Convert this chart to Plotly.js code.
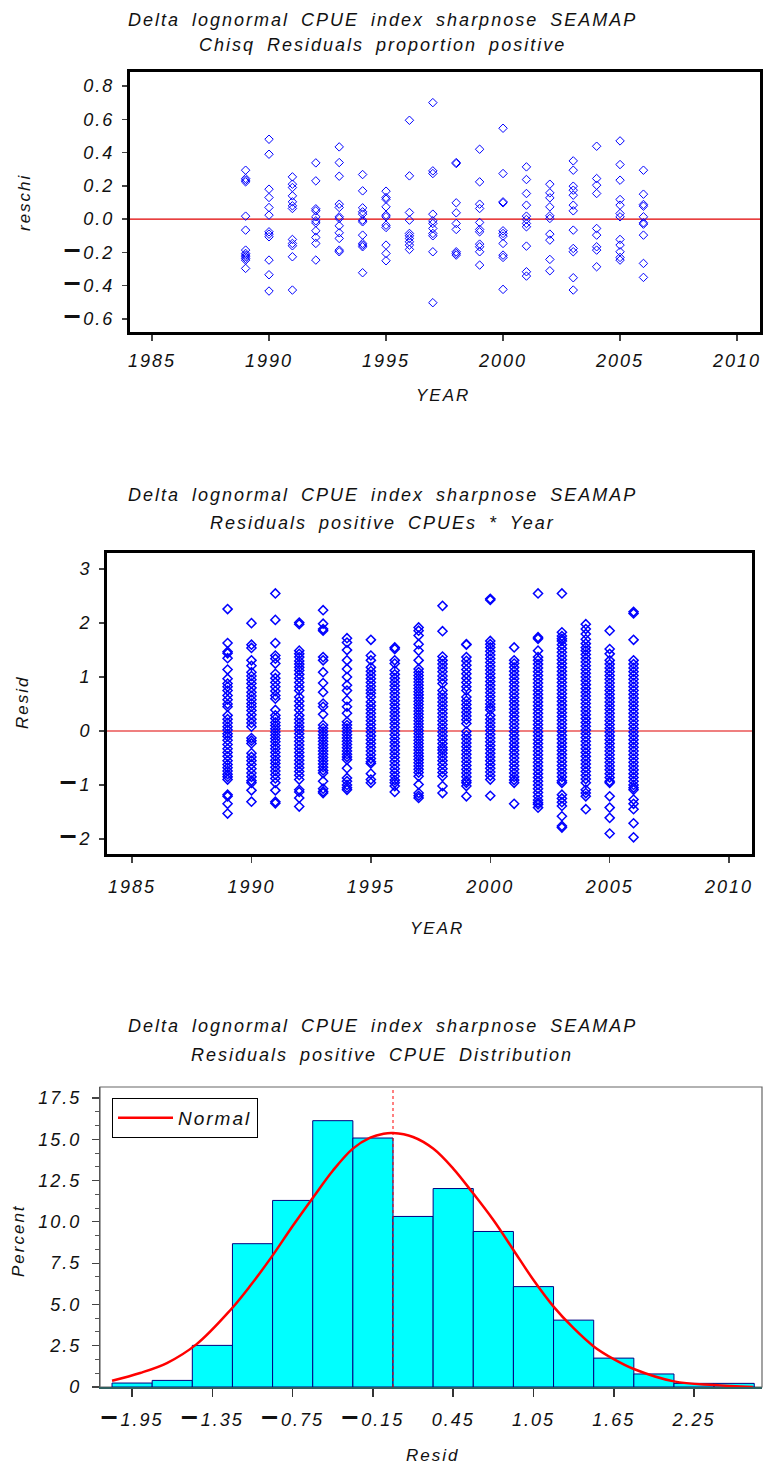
<!DOCTYPE html>
<html><head><meta charset="utf-8">
<script src="https://cdn.plot.ly/plotly-3.0.1.min.js"></script>
<style>
html,body{margin:0;padding:0;background:#fff;}
#chart{width:763px;height:1466px;}
text{letter-spacing:2px;word-spacing:5px;font-style:italic;}
</style></head><body><div id="chart"></div>
<script>
// ---------- Panel 1: Chisq residuals, proportion positive ----------
const chisqYears = [1989,1990,1991,1992,1993,1994,1995,1996,1997,1998,1999,2000,2001,2002,2003,2004,2005,2006];
const chisqResid = [
  [0.294,0.244,0.234,0.224,0.018,-0.066,-0.186,-0.206,-0.216,-0.226,-0.236,-0.246,-0.296],
  [0.48,0.39,0.18,0.13,0.07,0.024,-0.076,-0.09,-0.106,-0.246,-0.334,-0.432],
  [0.254,0.21,0.19,0.14,0.104,0.08,0.064,-0.122,-0.146,-0.16,-0.226,-0.426],
  [0.338,0.23,0.062,0.05,0.014,-0.01,-0.022,-0.07,-0.11,-0.146,-0.246],
  [0.434,0.34,0.258,0.09,0.07,0.014,0.004,-0.04,-0.082,-0.116,-0.186,-0.196],
  [0.268,0.17,0.068,0.044,0.03,-0.006,-0.016,-0.096,-0.146,-0.156,-0.166,-0.322],
  [0.168,0.13,0.12,0.074,0.024,0.014,-0.036,-0.05,-0.156,-0.206,-0.25],
  [0.594,0.26,0.04,-0.006,-0.086,-0.1,-0.116,-0.136,-0.156,-0.182],
  [0.70,0.29,0.274,0.03,-0.01,-0.026,-0.056,-0.086,-0.1,-0.196,-0.502],
  [0.34,0.334,0.098,0.038,-0.026,-0.062,-0.196,-0.206,-0.216],
  [0.42,0.224,0.09,0.064,-0.02,-0.062,-0.076,-0.15,-0.166,-0.196,-0.276],
  [0.546,0.274,0.104,0.098,-0.07,-0.086,-0.102,-0.146,-0.216,-0.23,-0.422],
  [0.314,0.238,0.154,0.084,0.018,-0.002,-0.026,-0.046,-0.162,-0.316,-0.342],
  [0.21,0.158,0.128,0.074,0.02,0.004,-0.09,-0.126,-0.242,-0.31],
  [0.35,0.294,0.198,0.174,0.144,0.084,0.05,-0.066,-0.176,-0.196,-0.352,-0.426],
  [0.438,0.244,0.204,0.154,-0.056,-0.096,-0.166,-0.186,-0.286],
  [0.47,0.328,0.234,0.118,0.084,0.034,0.014,-0.122,-0.156,-0.196,-0.23,-0.246],
  [0.294,0.15,0.088,0.078,0.014,-0.022,-0.03,-0.096,-0.266,-0.35]
];

// ---------- Panel 2: Residuals positive CPUEs by year ----------
const posYears = [1989,1990,1991,1992,1993,1994,1995,1996,1997,1998,1999,2000,2001,2002,2003,2004,2005,2006];
const posResid = [
  [2.26,1.63,1.47,1.44,1.35,1.14,0.97,0.88,0.82,0.75,0.66,0.58,0.50,0.45,0.29,0.22,0.15,0.08,0.02,-0.05,-0.10,-0.17,-0.25,-0.33,-0.40,-0.47,-0.55,-0.62,-0.68,-0.74,-0.80,-0.85,-0.90,-1.18,-1.21,-1.35,-1.53],
  [2.00,1.60,1.54,1.31,1.21,1.09,1.02,0.95,0.88,0.80,0.72,0.65,0.58,0.51,0.45,0.38,0.30,0.22,0.15,0.08,-0.13,-0.18,-0.23,-0.41,-0.48,-0.55,-0.62,-0.70,-0.78,-0.85,-0.92,-0.96,-1.10,-1.31],
  [2.55,2.06,1.63,1.40,1.34,1.25,1.06,0.98,0.90,0.82,0.74,0.66,0.60,0.39,0.29,0.23,0.16,0.10,0.04,-0.02,-0.08,-0.14,-0.20,-0.27,-0.33,-0.40,-0.47,-0.54,-0.60,-0.67,-0.74,-0.81,-0.88,-0.96,-1.10,-1.31,-1.34],
  [2.01,1.98,1.49,1.43,1.37,1.30,1.24,1.18,1.12,1.05,0.98,0.90,0.82,0.75,0.63,0.55,0.47,0.39,0.29,0.22,0.15,0.08,0.02,-0.05,-0.12,-0.19,-0.26,-0.33,-0.40,-0.47,-0.54,-0.61,-0.68,-0.75,-0.82,-0.90,-1.09,-1.13,-1.24,-1.40],
  [2.24,1.99,1.89,1.86,1.37,1.31,1.09,0.89,0.72,0.51,0.45,0.31,0.11,0.05,-0.01,-0.07,-0.13,-0.19,-0.25,-0.31,-0.37,-0.43,-0.49,-0.55,-0.61,-0.67,-0.73,-0.78,-0.93,-1.07,-1.12,-1.15],
  [1.72,1.64,1.50,1.31,1.15,1.00,0.85,0.75,0.57,0.45,0.33,0.17,0.11,0.05,-0.01,-0.07,-0.13,-0.19,-0.25,-0.31,-0.37,-0.43,-0.48,-0.53,-0.69,-0.87,-0.93,-1.00,-1.05,-1.09],
  [1.69,1.40,1.31,1.18,1.11,1.04,0.97,0.90,0.83,0.76,0.70,0.63,0.54,0.47,0.40,0.33,0.26,0.19,0.12,0.05,-0.02,-0.09,-0.16,-0.23,-0.30,-0.37,-0.44,-0.51,-0.57,-0.60,-0.79,-0.90,-0.96],
  [1.55,1.52,1.31,1.25,1.12,1.05,0.98,0.91,0.84,0.77,0.70,0.63,0.56,0.49,0.42,0.35,0.28,0.21,0.14,0.07,0.00,-0.07,-0.14,-0.21,-0.28,-0.35,-0.42,-0.49,-0.56,-0.63,-0.70,-0.77,-0.84,-0.91,-0.96,-1.02,-1.13],
  [1.92,1.86,1.77,1.61,1.49,1.31,1.15,1.09,1.03,0.97,0.91,0.85,0.79,0.73,0.67,0.61,0.55,0.49,0.43,0.37,0.31,0.25,0.19,0.13,0.07,0.01,-0.05,-0.11,-0.17,-0.23,-0.29,-0.35,-0.41,-0.47,-0.53,-0.59,-0.65,-0.71,-0.77,-0.84,-0.99,-1.15,-1.20,-1.24],
  [2.32,1.85,1.38,1.31,1.24,1.17,1.10,1.02,0.95,0.88,0.75,0.68,0.61,0.54,0.47,0.40,0.33,0.26,0.19,0.12,0.05,-0.02,-0.09,-0.16,-0.23,-0.30,-0.35,-0.41,-0.48,-0.55,-0.62,-0.70,-0.77,-0.84,-1.02,-1.15],
  [1.61,1.60,1.37,1.30,1.22,1.14,1.06,0.98,0.90,0.82,0.75,0.63,0.56,0.49,0.42,0.35,0.28,0.21,0.14,-0.01,-0.08,-0.15,-0.22,-0.29,-0.36,-0.43,-0.50,-0.57,-0.64,-0.71,-0.78,-0.85,-0.92,-0.96,-1.02,-1.21],
  [2.45,2.43,1.67,1.61,1.55,1.48,1.41,1.34,1.27,1.20,1.13,1.06,0.99,0.92,0.85,0.78,0.71,0.64,0.57,0.50,0.44,0.39,0.29,0.22,0.15,0.08,0.01,-0.06,-0.13,-0.20,-0.27,-0.34,-0.41,-0.48,-0.55,-0.62,-0.69,-0.76,-0.83,-0.90,-1.20],
  [1.55,1.31,1.25,1.18,1.11,1.04,0.97,0.90,0.83,0.76,0.69,0.62,0.55,0.48,0.41,0.34,0.27,0.20,0.13,0.06,-0.01,-0.08,-0.15,-0.22,-0.29,-0.36,-0.43,-0.50,-0.57,-0.64,-0.71,-0.78,-0.85,-0.91,-0.96,-1.35],
  [2.55,1.74,1.71,1.49,1.37,1.31,1.24,1.17,1.10,1.03,0.96,0.89,0.82,0.75,0.68,0.61,0.54,0.47,0.40,0.33,0.26,0.19,0.12,0.05,-0.02,-0.09,-0.16,-0.23,-0.30,-0.37,-0.44,-0.51,-0.58,-0.65,-0.72,-0.79,-0.86,-0.93,-1.00,-1.07,-1.14,-1.21,-1.28,-1.33,-1.36,-1.42],
  [2.55,1.83,1.76,1.71,1.67,1.60,1.53,1.46,1.39,1.32,1.25,1.18,1.11,1.04,0.97,0.90,0.83,0.76,0.69,0.62,0.55,0.48,0.41,0.34,0.27,0.20,0.13,0.06,-0.01,-0.08,-0.15,-0.22,-0.29,-0.36,-0.43,-0.50,-0.57,-0.64,-0.71,-0.78,-0.85,-0.92,-0.96,-1.18,-1.25,-1.32,-1.39,-1.58,-1.76,-1.79],
  [1.98,1.89,1.80,1.70,1.62,1.55,1.49,1.42,1.35,1.28,1.21,1.14,1.07,1.00,0.93,0.86,0.79,0.72,0.65,0.58,0.51,0.44,0.37,0.30,0.23,0.16,0.09,0.02,-0.05,-0.12,-0.19,-0.26,-0.33,-0.40,-0.47,-0.54,-0.61,-0.68,-0.75,-0.82,-0.89,-0.96,-1.09,-1.15,-1.21,-1.45],
  [1.86,1.52,1.43,1.31,1.24,1.17,1.10,1.03,0.96,0.89,0.82,0.75,0.68,0.61,0.54,0.47,0.40,0.33,0.26,0.19,0.12,0.05,-0.02,-0.09,-0.16,-0.23,-0.30,-0.37,-0.44,-0.51,-0.58,-0.65,-0.72,-0.79,-0.86,-0.93,-0.96,-1.21,-1.42,-1.61,-1.90],
  [2.21,2.18,1.69,1.31,1.24,1.17,1.10,1.03,0.96,0.89,0.82,0.75,0.68,0.61,0.54,0.47,0.40,0.33,0.26,0.19,0.12,0.05,-0.02,-0.09,-0.16,-0.23,-0.30,-0.37,-0.44,-0.51,-0.58,-0.65,-0.72,-0.79,-0.86,-0.93,-1.00,-1.05,-1.09,-1.27,-1.35,-1.45,-1.71,-1.97]
];

// ---------- Panel 3: distribution of residuals ----------
const binMid = [-1.95,-1.65,-1.35,-1.05,-0.75,-0.45,-0.15,0.15,0.45,0.75,1.05,1.35,1.65,1.95,2.25,2.55];
const binPct = [0.24,0.40,2.52,8.68,11.30,16.13,15.08,10.33,12.02,9.42,6.08,4.05,1.75,0.79,0.22,0.22];
const normX = [-2.10,-1.89,-1.69,-1.47,-1.22,-1.07,-0.91,-0.75,-0.60,-0.45,-0.30,-0.17,-0.07,0.00,0.15,0.30,0.45,0.59,0.75,0.90,1.05,1.20,1.35,1.50,1.65,1.80,2.10,2.40,2.69];
const normY = [0.38,0.85,1.45,2.58,4.62,6.10,7.85,9.75,11.45,13.10,14.44,15.10,15.34,15.38,15.14,14.44,13.23,11.82,10.11,8.30,6.48,4.87,3.56,2.46,1.69,1.09,0.34,0.12,0.00];
const meanLineX = 0.0;

// ---------- tick labels ----------
const DASH = '<span style="font-weight:bold;font-size:30px;font-style:normal;letter-spacing:3px">–</span>';
const yearTicks = [1985,1990,1995,2000,2005,2010];
const reschiTickVals = [-0.6,-0.4,-0.2,0,0.2,0.4,0.6,0.8];
const reschiTickText = [DASH+'0.6',DASH+'0.4',DASH+'0.2','0.0','0.2','0.4','0.6','0.8'];
const residTickVals = [-2,-1,0,1,2,3];
const residTickText = [DASH+'2',DASH+'1','0','1','2','3'];
const pctTickVals = [0,2.5,5,7.5,10,12.5,15,17.5];
const pctTickText = ['0','2.5','5.0','7.5','10.0','12.5','15.0','17.5'];
const histTickVals = [-1.95,-1.35,-0.75,-0.15,0.45,1.05,1.65,2.25];
const histTickText = [DASH+'1.95',DASH+'1.35',DASH+'0.75',DASH+'0.15','0.45','1.05','1.65','2.25'];

const title1 = ['Delta lognormal CPUE index sharpnose SEAMAP','Chisq Residuals proportion positive'];
const title2 = ['Delta lognormal CPUE index sharpnose SEAMAP','Residuals positive CPUEs * Year'];
const title3 = ['Delta lognormal CPUE index sharpnose SEAMAP','Residuals positive CPUE Distribution'];

// ---------- build ----------
const W = 763, H = 1466;
const FAM = 'Liberation Sans, Arial, Helvetica, sans-serif';
const px = v => v / W, py = v => 1 - v / H;
const tickFont = {family: FAM, size: 18, style: 'italic', color: '#111'};

function flatten(years, vals) {
  const x = [], y = [];
  years.forEach((yr, i) => vals[i].forEach(v => { x.push(yr); y.push(v); }));
  return {x, y};
}
const p1 = flatten(chisqYears, chisqResid);
const p2 = flatten(posYears, posResid);

const traces = [
  {type: 'scatter', mode: 'markers', x: p1.x, y: p1.y, xaxis: 'x', yaxis: 'y', showlegend: false,
   marker: {symbol: 'diamond-open', size: 6.5, color: '#0000ff', line: {width: 1, color: '#0000ff'}}},
  {type: 'scatter', mode: 'markers', x: p2.x, y: p2.y, xaxis: 'x2', yaxis: 'y2', showlegend: false,
   marker: {symbol: 'diamond-open', size: 7, color: '#0000ff', line: {width: 1.5, color: '#0000ff'}}},
  {type: 'bar', x: binMid, y: binPct, width: 0.3, xaxis: 'x3', yaxis: 'y3', showlegend: false,
   marker: {color: '#00ffff', line: {color: '#000080', width: 1}}},
  {type: 'scatter', mode: 'lines', name: 'Normal', x: normX, y: normY, xaxis: 'x3', yaxis: 'y3',
   line: {color: '#ff0000', width: 2.5, shape: 'spline', smoothing: 1}, showlegend: true}
];

function ann(text, x, y, size, angle) {
  return {text, xref: 'paper', yref: 'paper', x: px(x), y: py(y), xanchor: 'center', yanchor: 'middle',
    showarrow: false, textangle: angle || 0, font: {family: FAM, size: size, style: 'italic', color: '#111'}};
}

const boxAxis = {showgrid: false, zeroline: false, showline: true, linecolor: '#000', linewidth: 3, mirror: true,
  ticks: 'outside', ticklen: 6, tickwidth: 1.5, tickcolor: '#444', tickfont: tickFont, fixedrange: true};

const layout = {
  width: W, height: H, margin: {l: 0, r: 0, t: 0, b: 0},
  paper_bgcolor: '#fff', plot_bgcolor: '#fff',
  font: {family: FAM},
  xaxis: Object.assign({}, boxAxis, {domain: [px(130), px(760)], range: [1984.06, 2010.98], tickvals: yearTicks, anchor: 'y', ticklabelstandoff: 4}),
  yaxis: Object.assign({}, boxAxis, {domain: [py(332), py(72)], range: [-0.678, 0.884], tickvals: reschiTickVals, ticktext: reschiTickText, anchor: 'x', ticklen: 5, ticklabelstandoff: 4}),
  xaxis2: Object.assign({}, boxAxis, {domain: [px(107), px(752)], range: [1983.95, 2010.96], tickvals: yearTicks, anchor: 'y2', ticklabelstandoff: 8}),
  yaxis2: Object.assign({}, boxAxis, {domain: [py(854), py(553)], range: [-2.28, 3.30], tickvals: residTickVals, ticktext: residTickText, anchor: 'x2', ticklen: 5, ticklabelstandoff: 4}),
  xaxis3: {domain: [px(100), px(762)], range: [-2.19, 2.758], anchor: 'y3', showgrid: false, zeroline: false,
    showline: true, linecolor: '#2f5f5f', linewidth: 2, ticks: 'outside', ticklen: 8, tickwidth: 1.5, tickcolor: '#333',
    tickvals: histTickVals, ticktext: histTickText, tickfont: tickFont, ticklabelstandoff: 7, fixedrange: true},
  yaxis3: {domain: [py(1387), py(1087)], range: [0, 18.17], anchor: 'x3', showgrid: false, zeroline: false,
    showline: true, linecolor: '#555', linewidth: 1.2, ticks: 'outside', ticklen: 7, tickwidth: 1.2, tickcolor: '#444',
    tickvals: pctTickVals, ticktext: pctTickText, tickfont: tickFont, ticklabelstandoff: 7, fixedrange: true,
    minor: {dtick: 2.5 / 3, ticks: 'outside', ticklen: 4, tickcolor: '#555', tickwidth: 1}},
  showlegend: true,
  legend: {x: px(112), y: py(1098), xanchor: 'left', yanchor: 'top', bgcolor: '#fff', bordercolor: '#000', borderwidth: 1,
    font: {family: FAM, size: 19, style: 'italic', color: '#111'}, itemwidth: 55},
  shapes: [
    {type: 'line', xref: 'x domain', x0: 0, x1: 1, yref: 'y', y0: 0, y1: 0, line: {color: '#e00000', width: 1.2}, layer: 'below'},
    {type: 'line', xref: 'x2 domain', x0: 0, x1: 1, yref: 'y2', y0: 0, y1: 0, line: {color: '#e00000', width: 1.2}, layer: 'below'},
    {type: 'rect', xref: 'x3 domain', x0: 0, x1: 1, yref: 'y3 domain', y0: 0, y1: 1, line: {color: '#666', width: 1.2}, layer: 'below'},
    {type: 'line', xref: 'x3', x0: meanLineX, x1: meanLineX, yref: 'y3 domain', y0: 0, y1: 1, line: {color: '#ff0000', width: 1, dash: 'dot'}}
  ],
  annotations: [
    ann(title1[0], 382, 20, 18), ann(title1[1], 382, 45, 18),
    ann('reschi', 24, 202, 17, -90), ann('YEAR', 443, 395, 17),
    ann(title2[0], 382, 495, 18), ann(title2[1], 382, 523, 18),
    ann('Resid', 22, 703, 17, -90), ann('YEAR', 437, 928, 17),
    ann(title3[0], 382, 1026, 18), ann(title3[1], 382, 1055, 18),
    ann('Percent', 18, 1241, 17, -90), ann('Resid', 432, 1455, 17)
  ]
};

Plotly.newPlot('chart', traces, layout, {displayModeBar: false, staticPlot: true});
</script></body></html>
